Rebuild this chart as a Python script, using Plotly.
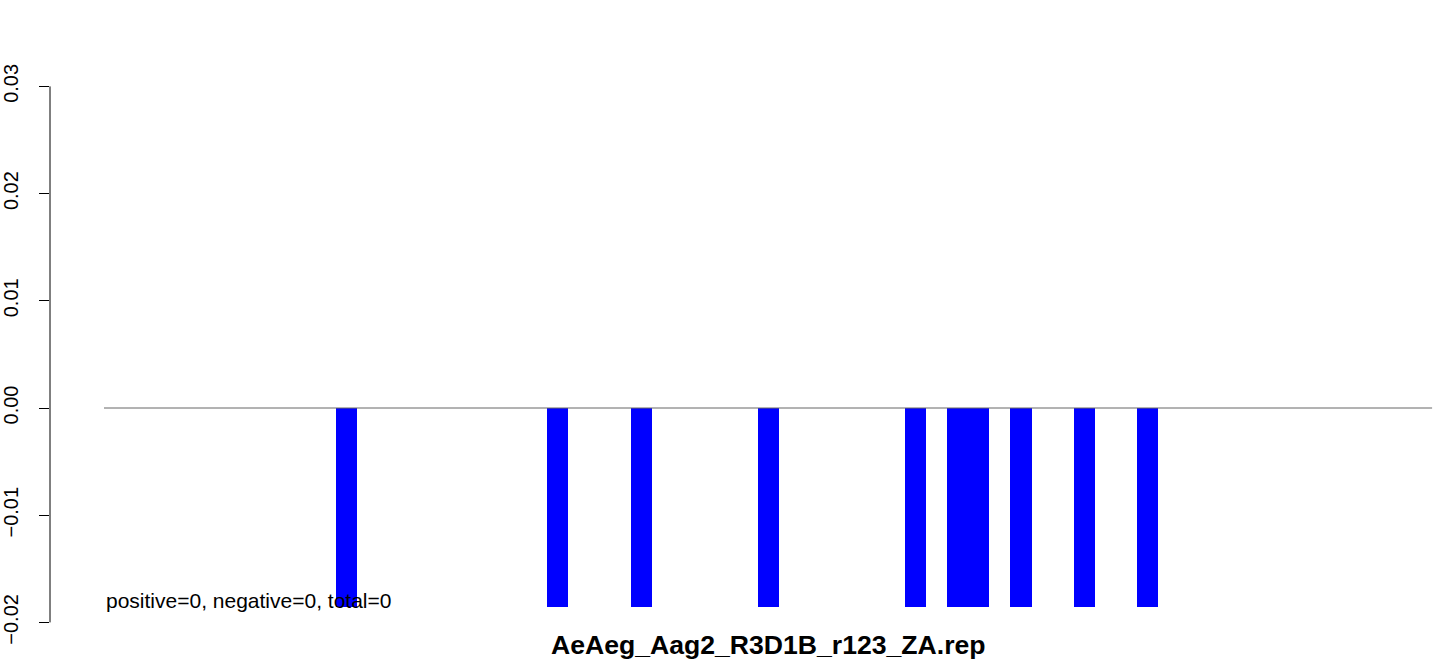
import plotly.graph_objects as go

# Data
bar_positions = [11.5, 21.5, 25.5, 31.5, 38.5, 40.5, 41.5, 43.5, 46.5, 49.5]
bar_values = [-0.0186] * len(bar_positions)
y_ticks = [-0.02, -0.01, 0.00, 0.01, 0.02, 0.03]
line_start, line_end = 0, 63
title_text = "AeAeg_Aag2_R3D1B_r123_ZA.rep"
note_text = "positive=0, negative=0, total=0"
note_y = -0.018

FONT = "Liberation Sans, Arial, Helvetica, sans-serif"

fig = go.Figure()
fig.add_trace(go.Bar(
    x=bar_positions, y=bar_values, width=1.0,
    marker=dict(color="#0000FF", line=dict(width=0)),
    showlegend=False, hoverinfo="skip",
))

fig.update_layout(
    width=1444, height=664,
    margin=dict(l=50, r=10, t=60, b=24, autoexpand=False),
    plot_bgcolor="white", paper_bgcolor="white",
    font=dict(family=FONT, color="black"),
    bargap=0,
    xaxis=dict(range=[-2.562, 63.09], visible=False, fixedrange=True,
               automargin=False),
    yaxis=dict(
        range=[-0.021642, 0.032463],
        tickvals=y_ticks,
        tickformat=".2f",
        ticks="outside", ticklen=10, tickwidth=1, tickcolor="black",
        tickangle=-90,
        tickfont=dict(size=20, family=FONT, color="black"),
        ticklabelstandoff=13,
        showgrid=False, zeroline=False, showline=False,
        automargin=False, fixedrange=True,
    ),
    shapes=[
        dict(type="line", xref="paper", yref="y", x0=0, x1=0,
             y0=y_ticks[0], y1=y_ticks[-1], line=dict(color="black", width=1)),
        dict(type="line", xref="x", yref="y", x0=line_start, x1=line_end,
             y0=0, y1=0, line=dict(color="#666666", width=1), layer="above"),
    ],
    annotations=[
        dict(text=note_text, x=0, y=note_y, xref="x", yref="y",
             xanchor="left", yanchor="middle", showarrow=False,
             font=dict(size=21, family=FONT, color="black")),
        dict(text="<b>" + title_text + "</b>", x=0.5188, y=-0.0086,
             xref="paper", yref="paper", xanchor="center", yanchor="middle",
             showarrow=False, font=dict(size=26.6, family=FONT, color="black")),
    ],
)

fig.write_html(
    "out.html",
    config={"displayModeBar": False},
    post_script="document.body.style.margin='0';document.body.style.padding='0';document.body.style.overflow='hidden';",
)
